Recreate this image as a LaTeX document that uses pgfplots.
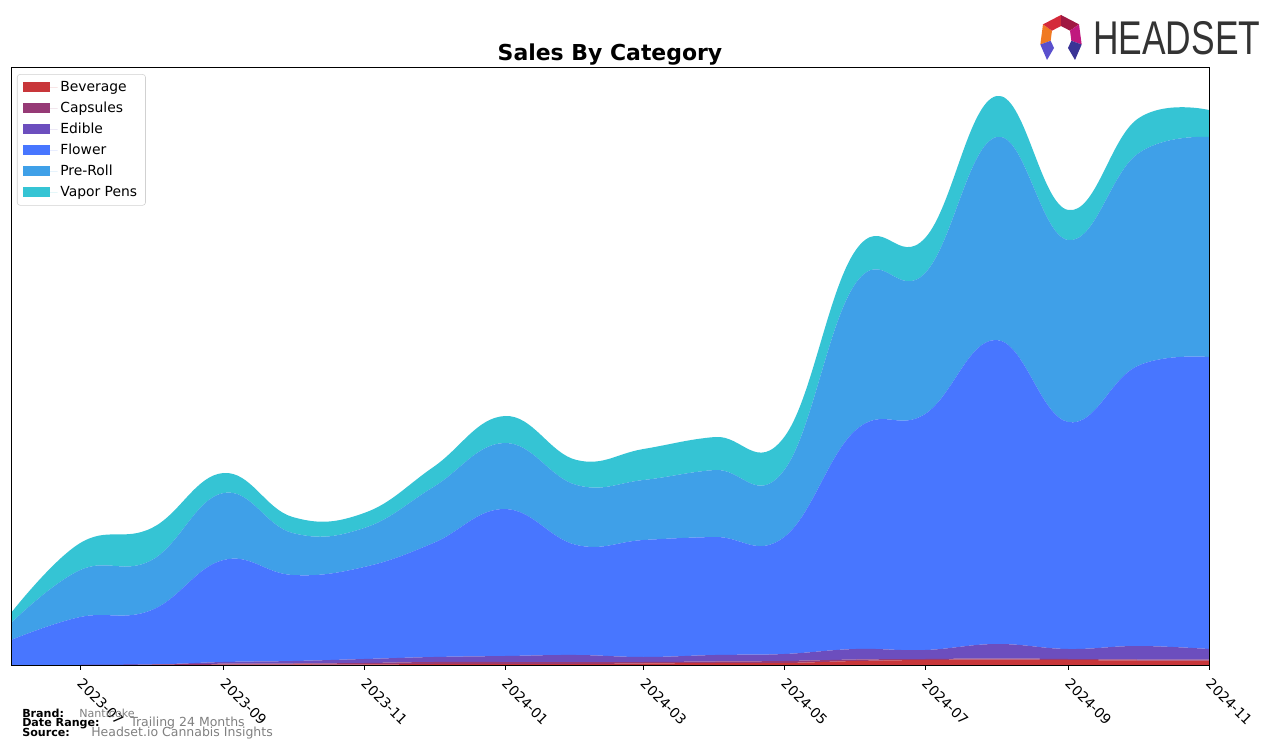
\documentclass[border=0pt]{standalone}
\usepackage{fontspec}
\setmainfont{DejaVu Sans}
\newfontfamily\logofont{Liberation Sans}
\usepackage{graphicx}
\usepackage{pgfplots}
\pgfplotsset{compat=1.18}
\usepackage{pgfplotstable}
\usetikzlibrary{calc}

\definecolor{cBev}{RGB}{200,54,58}
\definecolor{cCap}{RGB}{150,58,118}
\definecolor{cEdi}{RGB}{108,78,190}
\definecolor{cFlo}{RGB}{72,118,255}
\definecolor{cPre}{RGB}{63,160,232}
\definecolor{cVap}{RGB}{53,196,212}
\definecolor{txtgray}{RGB}{128,128,128}
\definecolor{logogray}{RGB}{51,51,51}
\definecolor{lgA}{RGB}{212,42,58}
\definecolor{lgB}{RGB}{160,24,66}
\definecolor{lgC}{RGB}{192,24,126}
\definecolor{lgD}{RGB}{240,122,34}
\definecolor{lgE}{RGB}{90,80,205}
\definecolor{lgF}{RGB}{58,52,150}

% x = days since 2023-06-01, values in chart units
\pgfplotstableread{
x   bev  caps edible flower preroll vapor
0   0    0    0      25     17      10
30  0    0    0      48     47      27
61  0    0.5  0      54.5   50      32
92  0.3  1    1.7    102    67      20
122 0.5  1    2.5    86     42      16
153 0.5  1.5  4      92     39      15
183 1    2    5      114    56      20
214 1    2    6      147    66      27
245 1    2    7      110    60      25
274 1.5  1.5  5      117    60      31
305 2    1.5  6.5    118    67      33
335 2    2    7      117    67      33
366 4    1.5  10.5   219    147     33
396 5    1    9      236    141     35
427 5.5  1    14.5   304    203     41
458 5    1    10     227    182     30
488 4.5  1    13.5   280    212     35
519 4.5  1    10.5   292    220     27
}\sales

\begin{document}
\begin{tikzpicture}
\path[use as bounding box] (0pt,0pt) rectangle (918.72pt,538.56pt);

\begin{axis}[
  at={(7.92pt,59.76pt)}, anchor=south west,
  scale only axis, width=862.56pt, height=430.56pt,
  xmin=0, xmax=519, ymin=0, ymax=598,
  stack plots=y, area style,
  axis line style={line width=0.6pt},
  xtick={30,92,153,214,274,335,396,458,519},
  xticklabels={2023-07,2023-09,2023-11,2024-01,2024-03,2024-05,2024-07,2024-09,2024-11},
  xticklabel style={rotate=-45, anchor=north west, inner sep=1pt,
    xshift=4.5pt, yshift=-1pt, font=\fontsize{10}{12}\selectfont},
  ytick=\empty,
  xtick pos=bottom, tick align=outside,
  major tick length=3.5pt,
  every tick/.style={black, line width=0.6pt},
  legend style={at={(0.005,0.988)}, anchor=north west, draw=black!18,
    rounded corners=2pt, font=\fontsize{10}{12}\selectfont,
    row sep=2.05pt, inner xsep=4pt, inner ysep=3pt,
    cells={anchor=west}},
  legend image code/.code={
    \fill[#1, sharp corners] (0pt,-3.6pt) rectangle (19.4pt,3.6pt);
    \path (0pt,0pt) -- (25pt,0pt);},
]
\addplot[fill=cBev, draw=none, smooth, tension=0.7] table[x=x, y=bev] {\sales} \closedcycle;
\addlegendentry{Beverage}
\addplot[fill=cCap, draw=none, smooth, tension=0.7] table[x=x, y=caps] {\sales} \closedcycle;
\addlegendentry{Capsules}
\addplot[fill=cEdi, draw=none, smooth, tension=0.7] table[x=x, y=edible] {\sales} \closedcycle;
\addlegendentry{Edible}
\addplot[fill=cFlo, draw=none, smooth, tension=0.7] table[x=x, y=flower] {\sales} \closedcycle;
\addlegendentry{Flower}
\addplot[fill=cPre, draw=none, smooth, tension=0.7] table[x=x, y=preroll] {\sales} \closedcycle;
\addlegendentry{Pre-Roll}
\addplot[fill=cVap, draw=none, smooth, tension=0.7] table[x=x, y=vapor] {\sales} \closedcycle;
\addlegendentry{Vapor Pens}
\end{axis}

\begin{scope}[x=0.72pt, y=-0.72pt, yshift=538.56pt]
\node[anchor=base, inner sep=0, font=\bfseries\fontsize{15.8}{18}\selectfont] at (610,61) {Sales By Category};

% footer
\node[anchor=base west, inner sep=0, font=\bfseries\fontsize{8}{9}\selectfont] at (22,717) {Brand:};
\node[anchor=base west, inner sep=0, font=\bfseries\fontsize{8}{9}\selectfont] at (22,726) {Date Range:};
\node[anchor=base west, inner sep=0, font=\bfseries\fontsize{8}{9}\selectfont] at (22,736) {Source:};
\node[anchor=base west, inner sep=0, text=txtgray, font=\fontsize{8}{9}\selectfont] at (79,717) {Nanticoke};
\node[anchor=base west, inner sep=0, text=txtgray, font=\fontsize{9}{10}\selectfont] at (130,726) {Trailing 24 Months};
\node[anchor=base west, inner sep=0, text=txtgray, font=\fontsize{9}{10}\selectfont] at (91,736) {Headset.io Cannabis Insights};

% logo
\coordinate (lc) at (1061,37);
\foreach \a/\b/\c in {160/215/lgD, 215/270/lgA, 270/325/lgB, 325/380/lgC}
  \fill[\c] ($(lc)+(\a:22)$) -- ($(lc)+(\b:22)$) -- ($(lc)+(\b:11)$) -- ($(lc)+(\a:11)$) -- cycle;
\fill[lgE] ($(lc)+(160:22)$) -- ($(lc)+(160:11)$) -- (1054,48) -- (1047,60) -- cycle;
\fill[lgF] ($(lc)+(20:22)$) -- ($(lc)+(20:11)$) -- (1068,48) -- (1075,60) -- cycle;
\node[anchor=south west, inner sep=0, text=logogray] at (1093,55) {\resizebox{120.2pt}{23.8pt}{\logofont HEADSET}};
\end{scope}
\end{tikzpicture}
\end{document}
